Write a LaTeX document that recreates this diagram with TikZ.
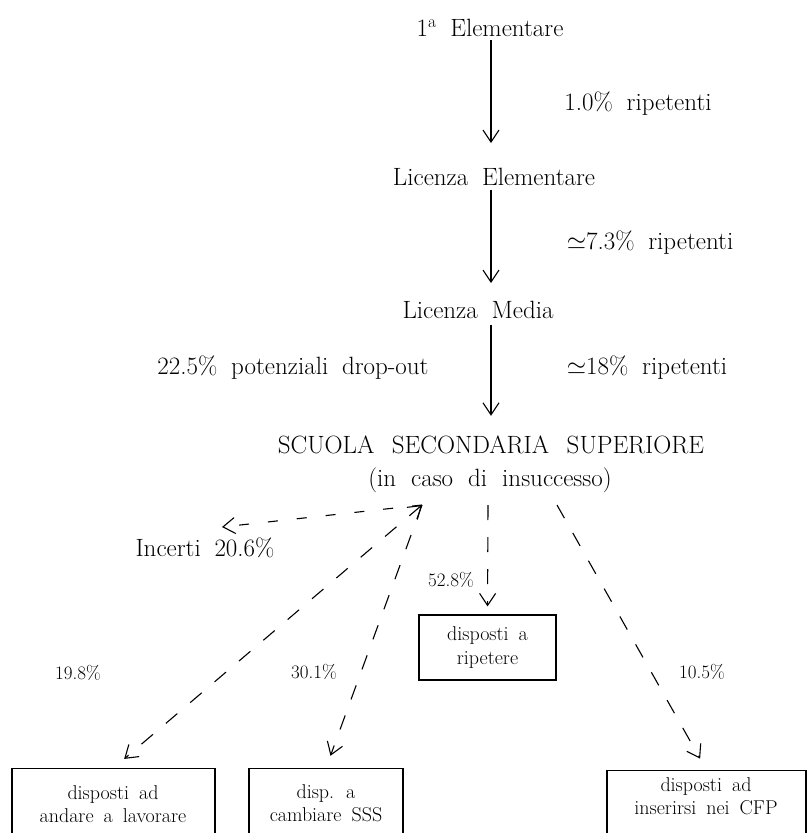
\documentclass[tikz,border=0pt]{standalone}
\usepackage{fontspec}
\usetikzlibrary{arrows.meta,calc}
\newcommand\mainfnt{\fontsize{25}{29}\selectfont\spaceskip 0.55em\relax}
\newcommand\schoolfnt{\fontsize{25}{29}\selectfont\spaceskip 0.7em\relax}
\newcommand\subfnt{\fontsize{25}{29}\selectfont\spaceskip 0.6em\relax}
\newcommand\boxfnt{\fontsize{20}{23.5}\selectfont\spaceskip 0.5em\relax}
\newcommand\pctfnt{\fontsize{19}{22}\selectfont}
\begin{document}
\begin{tikzpicture}[x=1pt,y=-1pt,
  main/.style={font=\mainfnt, inner sep=0pt},
  pct/.style={font=\pctfnt, inner sep=0pt},
  boxtxt/.style={font=\boxfnt, align=center, inner sep=0pt},
  box/.style={draw, line width=1.2pt, inner sep=0pt},
  tip/.tip={Straight Barb[length=12pt,width=16pt,line width=1.1pt]},
  arr/.style={line width=1.1pt, -tip},
  dsh/.style={line width=1.1pt, dash pattern=on 15pt off 17pt},
  dshB/.style={line width=1.1pt, dash pattern=on 10pt off 19pt}
]
\useasboundingbox (0,0) rectangle (808,833);
\clip (0,0) rectangle (808,833);

% main labels
\node[main] (n1) at (490,28) {1\textsuperscript{a} Elementare};
\node[main] (n2) at (494,177) {Licenza Elementare};
\node[main] (n3) at (478,310) {Licenza Media};
\node[main, font=\schoolfnt] (n4) at (491,445) {SCUOLA SECONDARIA SUPERIORE};
\node[main, font=\subfnt] (n5) at (490,480) {(in caso di insuccesso)};

\node[main] (l1) at (638,104) {1.0\% ripetenti};
\node[main] (l2) at (650,243) {$\simeq$7.3\% ripetenti};
\node[main] (l3) at (647,368) {$\simeq$18\% ripetenti};
\node[main] (l4) at (293,368) {22.5\% potenziali drop-out};
\node[main] (l5) at (205,548) {Incerti 20.6\%};

% vertical arrows
\draw[arr, shorten <=3pt, shorten >=25pt] (n1.south -| n4.north) -- (n2.north -| n4.north);
\draw[arr, shorten <=4pt, shorten >=18pt] (n2.south -| n4.north) -- (n3.north -| n4.north);
\draw[arr, shorten <=6pt, shorten >=20pt] (n3.south -| n4.north) -- (n4.north);

% junction points under the school node
\coordinate (hub) at (422,505);
\coordinate (sv) at (488,505);
\coordinate (sr) at (557,505);
\coordinate (inc) at (222,527);

% boxes
\node[box, boxtxt, draw, minimum width=137pt, minimum height=65pt] (bR) at (487.5,647.5) {disposti a\\ripetere};
\node[box, minimum width=203pt, minimum height=80pt, anchor=north] (b1) at (113.5,768) {};
\node[boxtxt] (t1) at (113,804) {disposti ad\\andare a lavorare};
\node[box, minimum width=154pt, minimum height=80pt, anchor=north] (b2) at (326,768) {};
\node[boxtxt] (t2) at (326,803) {disp. a\\cambiare SSS};
\node[box, minimum width=199pt, minimum height=80pt, anchor=north] (b3) at (706.5,770) {};
\node[boxtxt] (t3) at (706,796) {disposti ad\\inserirsi nei CFP};

% percentages
\node[pct] (p1) at (78,673) {19.8\%};
\node[pct] (p2) at (314,672) {30.1\%};
\node[pct] (p3) at (451,580) {52.8\%};
\node[pct] (p4) at (702,672) {10.5\%};

% dashed connectors
\draw[dshB, -tip] (hub) -- (inc);
\draw[dsh, tip-tip, shorten >=14pt] (hub) -- (b1.north);
\draw[dsh, -tip, shorten >=13pt] (hub) -- (b2.north);
\draw[dsh, -tip, shorten >=8pt] (sv) -- (bR.north);
\draw[dsh, -tip, shorten >=13pt] (sr) -- (b3.north);
\end{tikzpicture}
\end{document}
